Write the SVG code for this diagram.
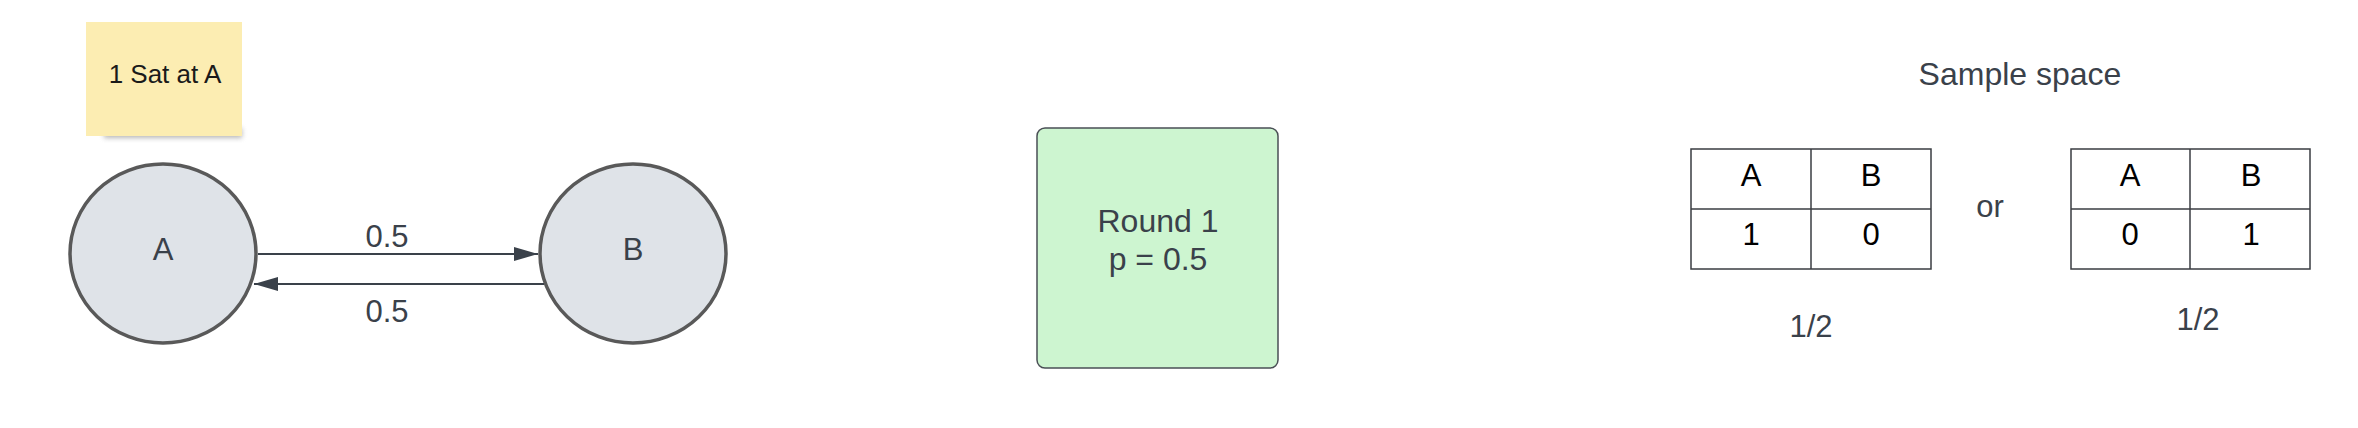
<svg xmlns="http://www.w3.org/2000/svg" width="2358" height="428" viewBox="0 0 2358 428">
<style>
.t{font-family:"Liberation Sans",Arial,sans-serif;fill:#3a414a;text-anchor:middle}
.k{font-family:"Liberation Sans",Arial,sans-serif;fill:#000;text-anchor:middle;font-size:31px}
.st{fill:#dfe3e8;stroke:#595959;stroke-width:3.5}
.tb{fill:#fff;stroke:#3a3d42;stroke-width:1.5}
.cn{stroke:#3a414a;stroke-width:2;fill:none}
</style>
<defs>
<marker id="ah" viewBox="0 0 24 14" refX="24" refY="7" markerWidth="24" markerHeight="14" markerUnits="userSpaceOnUse" orient="auto">
<path d="M0,0 L24,7 L0,14 Z" fill="#3a414a"/>
</marker>
<filter id="sh" x="-20%" y="-50%" width="140%" height="200%"><feGaussianBlur stdDeviation="2.5"/></filter>
</defs>
<rect width="2358" height="428" fill="#fff"/>
<g id="note">
<rect x="104" y="128" width="138" height="10" fill="#888" opacity="0.6" filter="url(#sh)"/>
<rect x="86" y="22" width="156" height="114" fill="#fcedb2"/>
<text class="t" x="165" y="83" font-size="26" style="fill:#1a1a1a">1 Sat at A</text>
</g>
<g id="nodeA">
<ellipse class="st" cx="163" cy="253.5" rx="93" ry="89.5"/>
<text class="t" x="163" y="260" font-size="31">A</text>
</g>
<g id="nodeB">
<ellipse class="st" cx="633" cy="253.5" rx="93" ry="89.5"/>
<text class="t" x="633" y="260" font-size="31">B</text>
</g>
<g id="connectors">
<line class="cn" x1="258" y1="254" x2="538" y2="254" marker-end="url(#ah)"/>
<line class="cn" x1="544" y1="284" x2="254" y2="284" marker-end="url(#ah)"/>
<text class="t" x="387" y="247" font-size="31">0.5</text>
<text class="t" x="387" y="322" font-size="31">0.5</text>
</g>
<g id="round">
<rect x="1037" y="128" width="241" height="240" rx="8" fill="#cdf5d0" stroke="#4a4f55" stroke-width="1.5"/>
<text class="t" x="1158" y="232" font-size="32">Round 1</text>
<text class="t" x="1158" y="270" font-size="32">p = 0.5</text>
</g>
<g id="samplespace">
<text class="t" x="2020" y="85" font-size="32">Sample space</text>
</g>
<g id="table1">
<rect class="tb" x="1691" y="149" width="240" height="120"/>
<line class="tb" x1="1811" y1="149" x2="1811" y2="269"/>
<line class="tb" x1="1691" y1="209" x2="1931" y2="209"/>
<text class="k" x="1751" y="186">A</text>
<text class="k" x="1871" y="186">B</text>
<text class="k" x="1751" y="245">1</text>
<text class="k" x="1871" y="245">0</text>
</g>
<g id="or">
<text class="t" x="1990" y="217" font-size="31">or</text>
</g>
<g id="table2">
<rect class="tb" x="2071" y="149" width="239" height="120"/>
<line class="tb" x1="2190" y1="149" x2="2190" y2="269"/>
<line class="tb" x1="2071" y1="209" x2="2310" y2="209"/>
<text class="k" x="2130" y="186">A</text>
<text class="k" x="2251" y="186">B</text>
<text class="k" x="2130" y="245">0</text>
<text class="k" x="2251" y="245">1</text>
</g>
<g id="prob1"><text class="t" x="1811" y="337" font-size="31">1/2</text></g>
<g id="prob2"><text class="t" x="2198" y="330" font-size="31">1/2</text></g>
</svg>
